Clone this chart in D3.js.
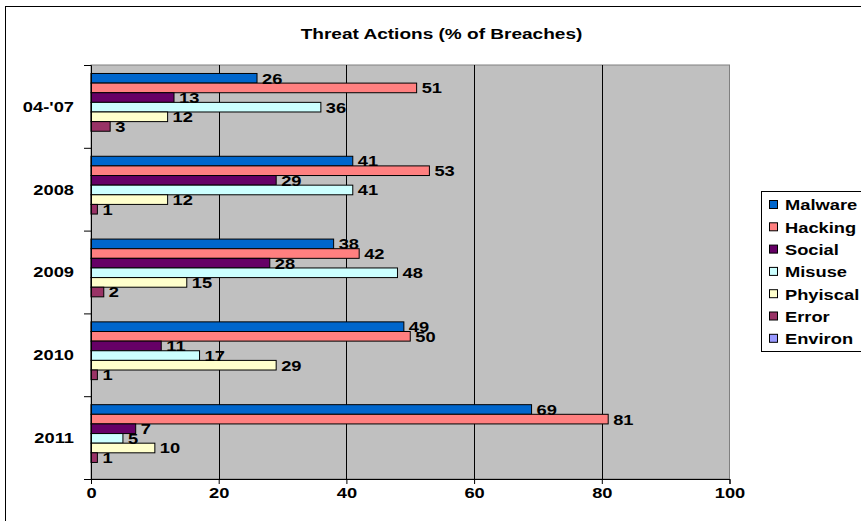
<!DOCTYPE html>
<html>
<head>
<meta charset="utf-8">
<script src="https://cdn.jsdelivr.net/npm/d3@7"></script>
<style>
  html, body { margin: 0; padding: 0; background: #fff; }
  svg text { font-family: "Liberation Sans", Arial, sans-serif; font-weight: bold; fill: #000; }
</style>
</head>
<body>
<svg id="chart" width="861" height="521"></svg>
<script>
// Threat action categories per reporting period (% of breaches)
const periods = ["04-'07", "2008", "2009", "2010", "2011"];
const seriesNames = ["Malware", "Hacking", "Social", "Misuse", "Phyiscal", "Error", "Environ"];
const seriesColors = ["#0066CC", "#FF8080", "#660066", "#CCFFFF", "#FFFFCC", "#993366", "#9999FF"];

const malware  = [26, 41, 38, 49, 69];
const hacking  = [51, 53, 42, 50, 81];
const social   = [13, 29, 28, 11, 7];
const misuse   = [36, 41, 48, 17, 5];
const physical = [12, 12, 15, 29, 10];
const error    = [3, 1, 2, 1, 1];
const environ  = [null, null, null, null, null];

const xTicks = [0, 20, 40, 60, 80, 100];
const titleText = "Threat Actions (% of Breaches)";

const seriesValues = [malware, hacking, social, misuse, physical, error, environ];

// Text is drawn with a horizontal stretch to get the wide Arial look
const SX = 1.22;
const FS = 15;

const svg = d3.select("#chart");

// Outer chart frame (runs past the right and bottom edges)
svg.append("rect")
  .attr("x", 5.5).attr("y", 6.5)
  .attr("width", 900).attr("height", 540)
  .attr("fill", "#fff").attr("stroke", "#000").attr("stroke-width", 1);

const plot = { left: 91, right: 729.5, top: 65, bottom: 479 };

const x = d3.scaleLinear().domain([0, 100]).range([plot.left, plot.right]);
const y = d3.scaleBand().domain(periods).range([plot.top, plot.bottom]).padding(0);
const yBound = d3.scaleLinear().domain([0, periods.length]).range([plot.top, plot.bottom]);
const ySub = d3.scaleBand().domain(seriesNames).range([0, y.bandwidth()])
  .paddingInner(0).paddingOuter(0.8).align(0.55);

// Plot background
svg.append("rect")
  .attr("x", plot.left).attr("y", plot.top)
  .attr("width", plot.right - plot.left).attr("height", plot.bottom - plot.top)
  .attr("fill", "#C0C0C0").attr("stroke", "#808080").attr("stroke-width", 1);

// Vertical gridlines
svg.append("g").selectAll("line")
  .data(xTicks.filter(t => t > 0 && t < 100))
  .join("line")
  .attr("x1", d => Math.round(x(d)) + 0.5).attr("x2", d => Math.round(x(d)) + 0.5)
  .attr("y1", plot.top).attr("y2", plot.bottom)
  .attr("stroke", "#000").attr("stroke-width", 1);

// Bars
const rows = [];
periods.forEach((p, i) => {
  seriesNames.forEach((s, j) => {
    const v = seriesValues[j][i];
    if (v !== null && v !== undefined) rows.push({ period: p, series: s, color: seriesColors[j], value: v });
  });
});

const barG = svg.append("g");
barG.selectAll("rect")
  .data(rows)
  .join("rect")
  .attr("x", x(0))
  .attr("y", d => y(d.period) + ySub(d.series))
  .attr("width", d => x(d.value) - x(0))
  .attr("height", ySub.bandwidth())
  .attr("fill", d => d.color)
  .attr("stroke", "#000").attr("stroke-width", 1);

// Value labels
barG.selectAll("text")
  .data(rows)
  .join("text")
  .attr("transform", d => `translate(${x(d.value) + 5},${y(d.period) + ySub(d.series) + ySub.bandwidth() / 2}) scale(${SX},1)`)
  .attr("dy", "0.36em")
  .attr("font-size", FS)
  .text(d => d.value);

// X axis
const xAxis = svg.append("g")
  .attr("transform", `translate(0,${plot.bottom})`)
  .call(d3.axisBottom(x).tickValues(xTicks).tickSize(5).tickFormat(d3.format("d")));
xAxis.select(".domain").attr("stroke", "#000");
xAxis.selectAll(".tick line").attr("stroke", "#000");
xAxis.selectAll(".tick text")
  .attr("x", 0).attr("y", 0).attr("dy", null)
  .attr("transform", `translate(0,18.5) scale(${SX},1)`)
  .attr("font-size", FS)
  .attr("font-family", null);

// Y axis: tick marks at category boundaries
const yTickAxis = svg.append("g")
  .attr("transform", `translate(${plot.left},0)`)
  .call(d3.axisLeft(yBound).tickValues(d3.range(periods.length + 1)).tickSize(7).tickFormat(""));
yTickAxis.select(".domain").attr("stroke", "#000");
yTickAxis.selectAll(".tick line").attr("stroke", "#000");

// Y axis: category labels at band centres
const yLabelAxis = svg.append("g")
  .attr("transform", `translate(${plot.left},0)`)
  .call(d3.axisLeft(y).tickSize(0).tickPadding(17));
yLabelAxis.select(".domain").remove();
yLabelAxis.selectAll(".tick text")
  .attr("x", 0).attr("dy", "0.36em")
  .attr("transform", `translate(-17,0) scale(${SX},1)`)
  .attr("font-size", FS)
  .attr("font-family", null);

// Title
svg.append("text")
  .attr("transform", `translate(441.5,38.5) scale(1.27,1)`)
  .attr("text-anchor", "middle")
  .attr("font-size", 15)
  .text(titleText);

// Legend
const legend = svg.append("g");
legend.append("rect")
  .attr("x", 761.5).attr("y", 191.5)
  .attr("width", 140).attr("height", 160)
  .attr("fill", "#fff").attr("stroke", "#000").attr("stroke-width", 1);

const legendStep = 22.3;
const legendItems = legend.selectAll("g.item")
  .data(seriesNames.map((s, i) => ({ name: s, color: seriesColors[i] })))
  .join("g")
  .attr("class", "item")
  .attr("transform", (d, i) => `translate(0,${205 + i * legendStep})`);
legendItems.append("rect")
  .attr("x", 769.5).attr("y", -4.5)
  .attr("width", 8).attr("height", 8)
  .attr("fill", d => d.color)
  .attr("stroke", "#000").attr("stroke-width", 1);
legendItems.append("text")
  .attr("transform", `translate(785,0) scale(${SX},1)`)
  .attr("dy", "0.36em")
  .attr("font-size", FS)
  .text(d => d.name);
</script>
</body>
</html>
